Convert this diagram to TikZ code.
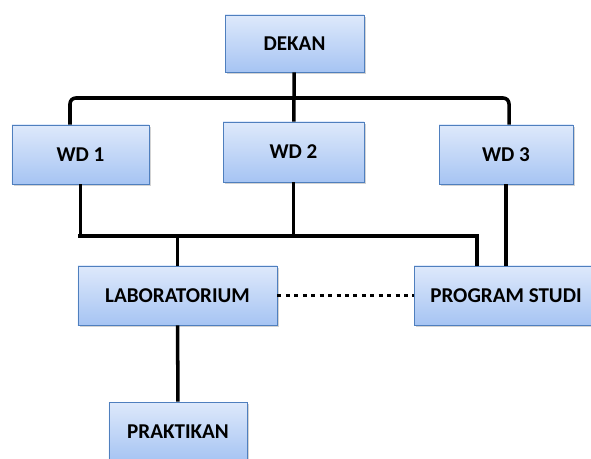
\documentclass[tikz,border=0pt]{standalone}
\usepackage{fontspec}
\setmainfont{Carlito}
\usepackage{tikz}
\usetikzlibrary{shadows}
\definecolor{boxtop}{HTML}{DEE9FB}
\definecolor{boxbottom}{HTML}{A6C4F3}
\definecolor{boxline}{HTML}{4F7FBE}
\tikzstyle{unit} = [rectangle, minimum height=1.77cm, text centered, draw=boxline, line width=0.8pt, top color=boxtop, bottom color=boxbottom, drop shadow={shadow xshift=1.5pt, shadow yshift=-1.5pt, opacity=0.35}, font=\fontsize{18}{21}\selectfont\bfseries]
\tikzstyle{link} = [line width=3pt]
\tikzstyle{dotlink} = [line width=2.6pt, dash pattern=on 3.4pt off 3.8pt]

\begin{document}
\begin{tikzpicture}[x=0.03cm, y=-0.03cm]
  \useasboundingbox (0,0) rectangle (591,459);
  \clip (0,0) rectangle (591,459);

  \node (dekan) [unit, minimum width=4.17cm, minimum height=1.71cm] at (294.5,43.5) {DEKAN};
  \node (wd1) [unit, minimum width=4.11cm] at (80.5,154.5) {WD 1};
  \node (wd2) [unit, minimum width=4.23cm, minimum height=1.8cm] at (293.5,152) {WD 2};
  \node (wd3) [unit, minimum width=4.02cm] at (506,154.5) {WD 3};
  \node (lab) [unit, minimum width=5.97cm] at (177.5,295.5) {LABORATORIUM};
  \node (prodi) [unit, minimum width=5.52cm] at (506,295.5) {PROGRAM STUDI};
  \node (praktikan) [unit, minimum width=4.14cm] at (178,431.5) {PRAKTIKAN};

  \coordinate (busL) at (70,98);
  \coordinate (busR) at (509,98);
  \coordinate (midL) at (78,236);
  \coordinate (midR) at (477,236);

  \draw [link] (dekan) -- (wd2);
  \draw [link, rounded corners=5pt] (busL |- wd1.north) -- (busL) -- (busR) -- (busR |- wd3.north);
  \draw [link] (wd1) -- (wd1 |- midL);
  \draw [link] (wd2) -- (wd2 |- midL);
  \draw [link] (lab) -- (lab |- midL);
  \draw [link] (midL) -- (midR) -- (midR |- prodi.north);
  \draw [link] (wd3) -- (prodi);
  \draw [dotlink] (lab) -- (prodi);
  \draw [link] (lab) -- (praktikan);
\end{tikzpicture}
\end{document}
